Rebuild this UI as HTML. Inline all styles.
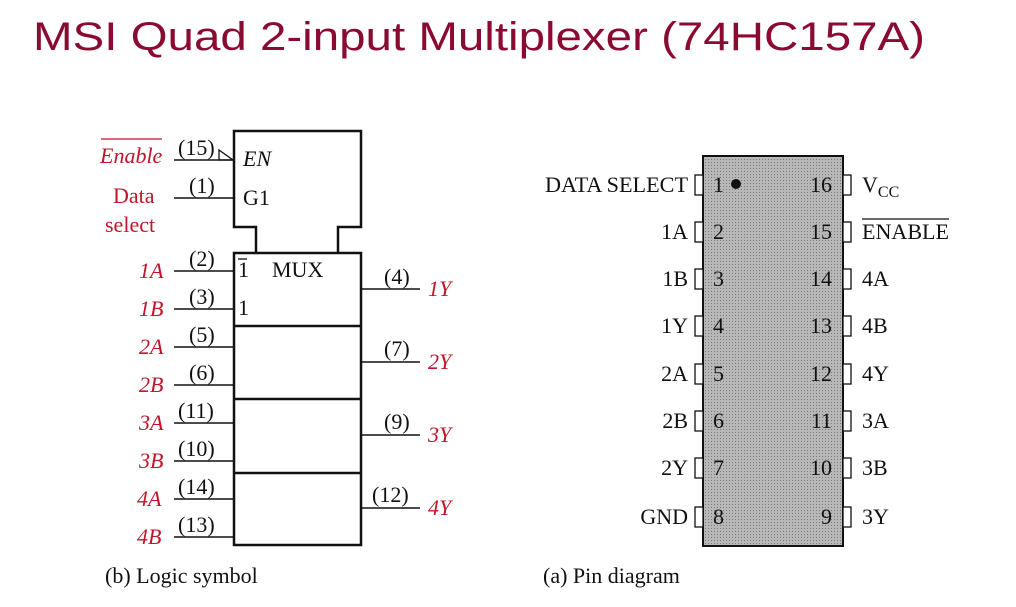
<!DOCTYPE html>
<html><head><meta charset="utf-8"><style>
html,body{margin:0;padding:0;background:#fff;}
svg{display:block}
.t{font-family:"Liberation Serif",serif;font-size:22px;fill:#111}
.r{font-family:"Liberation Serif",serif;font-size:22px;fill:#c0152a;font-style:italic}
.rn{font-family:"Liberation Serif",serif;font-size:22px;fill:#c0152a}
</style></head><body>
<svg width="1016" height="607" viewBox="0 0 1016 607" xmlns="http://www.w3.org/2000/svg">
<defs><pattern id="dots" width="3" height="3" patternUnits="userSpaceOnUse"><rect width="3" height="3" fill="#b8b8b8"/><rect width="1" height="1" fill="#7a7a7a"/></pattern></defs>
<text x="33" y="50" font-family="'Comic Sans MS','Liberation Sans',sans-serif" font-size="40" fill="#8b0a32" textLength="892" lengthAdjust="spacingAndGlyphs">MSI Quad 2-input Multiplexer (74HC157A)</text>
<g stroke="#111" stroke-width="2.5" fill="none">
<path d="M256,253 V227 H234 V131 H361 V227 H338 V253"/>
<rect x="234" y="253" width="127" height="292"/>
<line x1="234" y1="326" x2="361" y2="326"/>
<line x1="234" y1="399" x2="361" y2="399"/>
<line x1="234" y1="473" x2="361" y2="473"/>
</g>
<g stroke="#111" stroke-width="1.5">
<line x1="174" y1="160" x2="234" y2="160"/>
<line x1="174" y1="198" x2="234" y2="198"/>
<line x1="174" y1="271" x2="234" y2="271"/>
<line x1="174" y1="309" x2="234" y2="309"/>
<line x1="174" y1="347" x2="234" y2="347"/>
<line x1="174" y1="385" x2="234" y2="385"/>
<line x1="174" y1="423" x2="234" y2="423"/>
<line x1="174" y1="461" x2="234" y2="461"/>
<line x1="174" y1="499" x2="234" y2="499"/>
<line x1="174" y1="537" x2="234" y2="537"/>
<line x1="361" y1="289" x2="420" y2="289"/>
<line x1="361" y1="362" x2="420" y2="362"/>
<line x1="361" y1="435" x2="420" y2="435"/>
<line x1="361" y1="508" x2="420" y2="508"/>
</g>
<path d="M219,150 V160 H233 Z" fill="none" stroke="#111" stroke-width="1.3"/>
<line x1="101" y1="139" x2="162" y2="139" stroke="#c0152a" stroke-width="1.3"/>
<text class="r" x="100" y="163">Enable</text>
<text class="rn" x="113" y="203">Data</text>
<text class="rn" x="105" y="232">select</text>
<text class="r" x="139" y="278">1A</text><text class="r" x="139" y="316">1B</text>
<text class="r" x="139" y="354">2A</text><text class="r" x="139" y="392">2B</text>
<text class="r" x="139" y="430">3A</text><text class="r" x="139" y="468">3B</text>
<text class="r" x="137" y="506">4A</text><text class="r" x="137" y="544">4B</text>
<text class="r" x="428" y="296">1Y</text><text class="r" x="428" y="369">2Y</text>
<text class="r" x="428" y="442">3Y</text><text class="r" x="428" y="515">4Y</text>
<g class="t">
<text x="178" y="155">(15)</text><text x="189" y="193">(1)</text>
<text x="189" y="266">(2)</text><text x="189" y="304">(3)</text>
<text x="189" y="342">(5)</text><text x="189" y="380">(6)</text>
<text x="178" y="418">(11)</text><text x="178" y="456">(10)</text>
<text x="178" y="494">(14)</text><text x="178" y="532">(13)</text>
<text x="384" y="284">(4)</text><text x="384" y="356">(7)</text>
<text x="384" y="429">(9)</text><text x="372" y="502">(12)</text>
<text x="243" y="166" font-style="italic">EN</text>
<text x="243" y="205">G1</text>
<text x="238" y="277">1</text>
<text x="272" y="277">MUX</text>
<text x="238" y="315">1</text>
<text x="105" y="583">(b)  Logic symbol</text>
<text x="543" y="583">(a)  Pin diagram</text>
</g>
<line x1="238" y1="259" x2="247" y2="259" stroke="#111" stroke-width="1.3"/>
<rect x="703" y="156" width="140" height="390" fill="url(#dots)" stroke="#111" stroke-width="2"/>
<g fill="#fff" stroke="#111" stroke-width="1.3">
<rect x="695" y="175" width="8" height="20"/><rect x="695" y="222" width="8" height="20"/>
<rect x="695" y="269" width="8" height="20"/><rect x="695" y="316" width="8" height="20"/>
<rect x="695" y="364" width="8" height="20"/><rect x="695" y="411" width="8" height="20"/>
<rect x="695" y="458" width="8" height="20"/><rect x="695" y="507" width="8" height="20"/>
<rect x="843" y="175" width="8" height="20"/><rect x="843" y="222" width="8" height="20"/>
<rect x="843" y="269" width="8" height="20"/><rect x="843" y="316" width="8" height="20"/>
<rect x="843" y="364" width="8" height="20"/><rect x="843" y="411" width="8" height="20"/>
<rect x="843" y="458" width="8" height="20"/><rect x="843" y="507" width="8" height="20"/>
</g>
<circle cx="736" cy="184" r="5" fill="#111"/>
<g class="t">
<text x="688" y="192" text-anchor="end" textLength="143" lengthAdjust="spacingAndGlyphs">DATA SELECT</text>
<text x="688" y="239" text-anchor="end">1A</text><text x="688" y="286" text-anchor="end">1B</text>
<text x="688" y="333" text-anchor="end">1Y</text><text x="688" y="381" text-anchor="end">2A</text>
<text x="688" y="428" text-anchor="end">2B</text><text x="688" y="475" text-anchor="end">2Y</text>
<text x="688" y="524" text-anchor="end">GND</text>
<text x="713" y="192">1</text><text x="713" y="239">2</text><text x="713" y="286">3</text><text x="713" y="333">4</text>
<text x="713" y="381">5</text><text x="713" y="428">6</text><text x="713" y="475">7</text><text x="713" y="524">8</text>
<text x="832" y="192" text-anchor="end">16</text><text x="832" y="239" text-anchor="end">15</text>
<text x="832" y="286" text-anchor="end">14</text><text x="832" y="333" text-anchor="end">13</text>
<text x="832" y="381" text-anchor="end">12</text><text x="832" y="428" text-anchor="end">11</text>
<text x="832" y="475" text-anchor="end">10</text><text x="832" y="524" text-anchor="end">9</text>
<text x="862" y="192">V<tspan font-size="16" dy="5">CC</tspan></text>
<text x="862" y="239" textLength="87" lengthAdjust="spacingAndGlyphs">ENABLE</text>
<text x="862" y="286">4A</text><text x="862" y="333">4B</text><text x="862" y="381">4Y</text>
<text x="862" y="428">3A</text><text x="862" y="475">3B</text><text x="862" y="524">3Y</text>
</g>
<line x1="862" y1="219" x2="949" y2="219" stroke="#111" stroke-width="1.3"/>
</svg>
</body></html>
